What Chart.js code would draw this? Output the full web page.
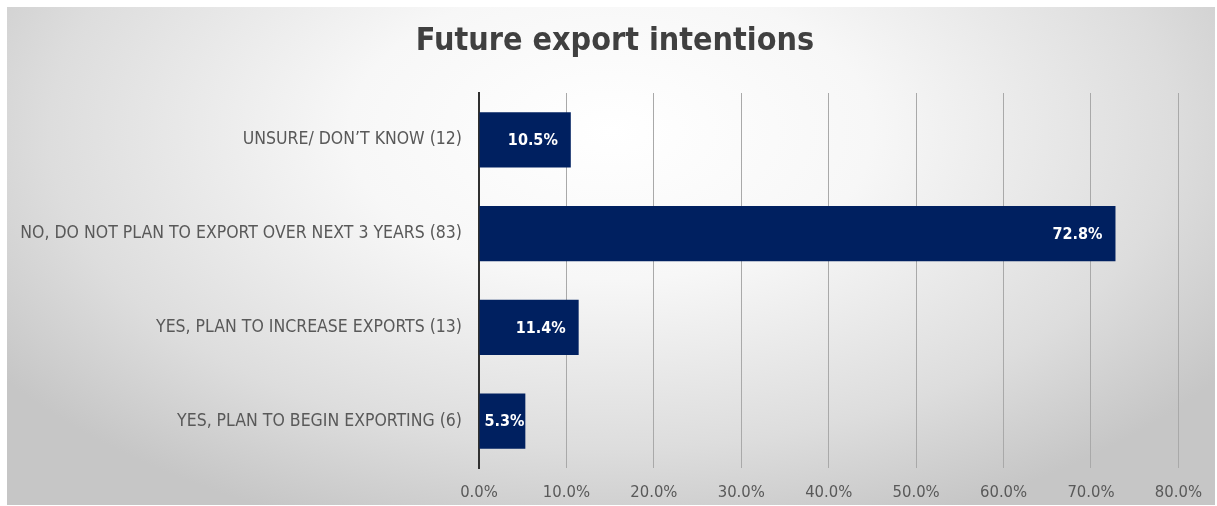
<!DOCTYPE html>
<html>
<head>
<meta charset="utf-8">
<script src="https://cdn.jsdelivr.net/npm/chart.js@4.4.1/dist/chart.umd.min.js"></script>
<style>
  html, body { margin: 0; padding: 0; background: #fff; }
  #wrap {
    position: absolute; left: 7px; top: 7px; width: 1208px; height: 498px;
    background: radial-gradient(ellipse 62% 85% at 50% 25%, #ffffff 0%, #f7f7f7 35%, #dddddd 75%, #c6c6c6 100%);
  }
  #frame { position: absolute; left: 0; top: 0; width: 1217px; height: 506px; }
</style>
</head>
<body>
<div id="wrap"></div>
<div id="frame"><canvas id="exportChart" width="1217" height="506"></canvas></div>
<script>
const chartTitle = 'Future export intentions';
const categories = [
  'UNSURE/ DON\u2019T KNOW (12)',
  'NO, DO NOT PLAN TO EXPORT OVER NEXT 3 YEARS (83)',
  'YES, PLAN TO INCREASE EXPORTS (13)',
  'YES, PLAN TO BEGIN EXPORTING (6)'
];
const shares = [10.5, 72.8, 11.4, 5.3];
const xTicks = [0, 10, 20, 30, 40, 50, 60, 70, 80];

const narrow = '"DejaVu Sans Condensed", "Liberation Sans", Arial, sans-serif';

// title centred on the whole panel rather than the plot box
const panelTitle = {
  id: 'panelTitle',
  afterDraw(chart) {
    const ctx = chart.ctx;
    ctx.save();
    ctx.font = 'bold 32px ' + narrow;
    ctx.fillStyle = '#404040';
    ctx.textAlign = 'center';
    ctx.textBaseline = 'middle';
    ctx.fillText(chartTitle, 615, 42);
    ctx.restore();
  }
};

// white percentage labels at the inner end of each bar
const barLabels = {
  id: 'barLabels',
  afterDatasetsDraw(chart) {
    const ctx = chart.ctx;
    const meta = chart.getDatasetMeta(0);
    ctx.save();
    ctx.font = 'bold 16px ' + narrow;
    ctx.fillStyle = '#ffffff';
    ctx.textAlign = 'right';
    ctx.textBaseline = 'middle';
    meta.data.forEach((bar, i) => {
      const txt = shares[i].toFixed(1) + '%';
      const w = ctx.measureText(txt).width;
      const x = Math.max(bar.x - 13, bar.base + 5 + w);
      ctx.fillText(txt, x, bar.y + 1);
    });
    ctx.restore();
  }
};

new Chart(document.getElementById('exportChart'), {
  type: 'bar',
  data: {
    labels: categories,
    datasets: [{
      data: shares,
      backgroundColor: '#002060',
      categoryPercentage: 1,
      barPercentage: 0.59
    }]
  },
  options: {
    indexAxis: 'y',
    responsive: false,
    animation: false,
    layout: { padding: { left: 8, right: 37, top: 93, bottom: 5 } },
    plugins: {
      legend: { display: false },
      tooltip: { enabled: false },
      title: { display: false }
    },
    scales: {
      x: {
        min: 0,
        max: 80,
        afterBuildTicks: s => { s.ticks = xTicks.map(v => ({ value: v })); },
        afterFit: s => { s.height = 33; },
        grid: { color: '#a9a9a9', lineWidth: 1, drawTicks: false },
        border: { display: false },
        ticks: {
          color: '#595959',
          padding: 15,
          font: { family: narrow, size: 16.5 },
          callback: v => v.toFixed(1) + '%'
        }
      },
      y: {
        afterFit: s => { s.width = 471; },
        grid: { display: false, drawTicks: false },
        border: { display: true, color: '#303030', width: 2 },
        ticks: {
          color: '#595959',
          padding: 17,
          font: { family: narrow, size: 17.5 }
        }
      }
    }
  },
  plugins: [barLabels, panelTitle]
});
</script>
</body>
</html>
